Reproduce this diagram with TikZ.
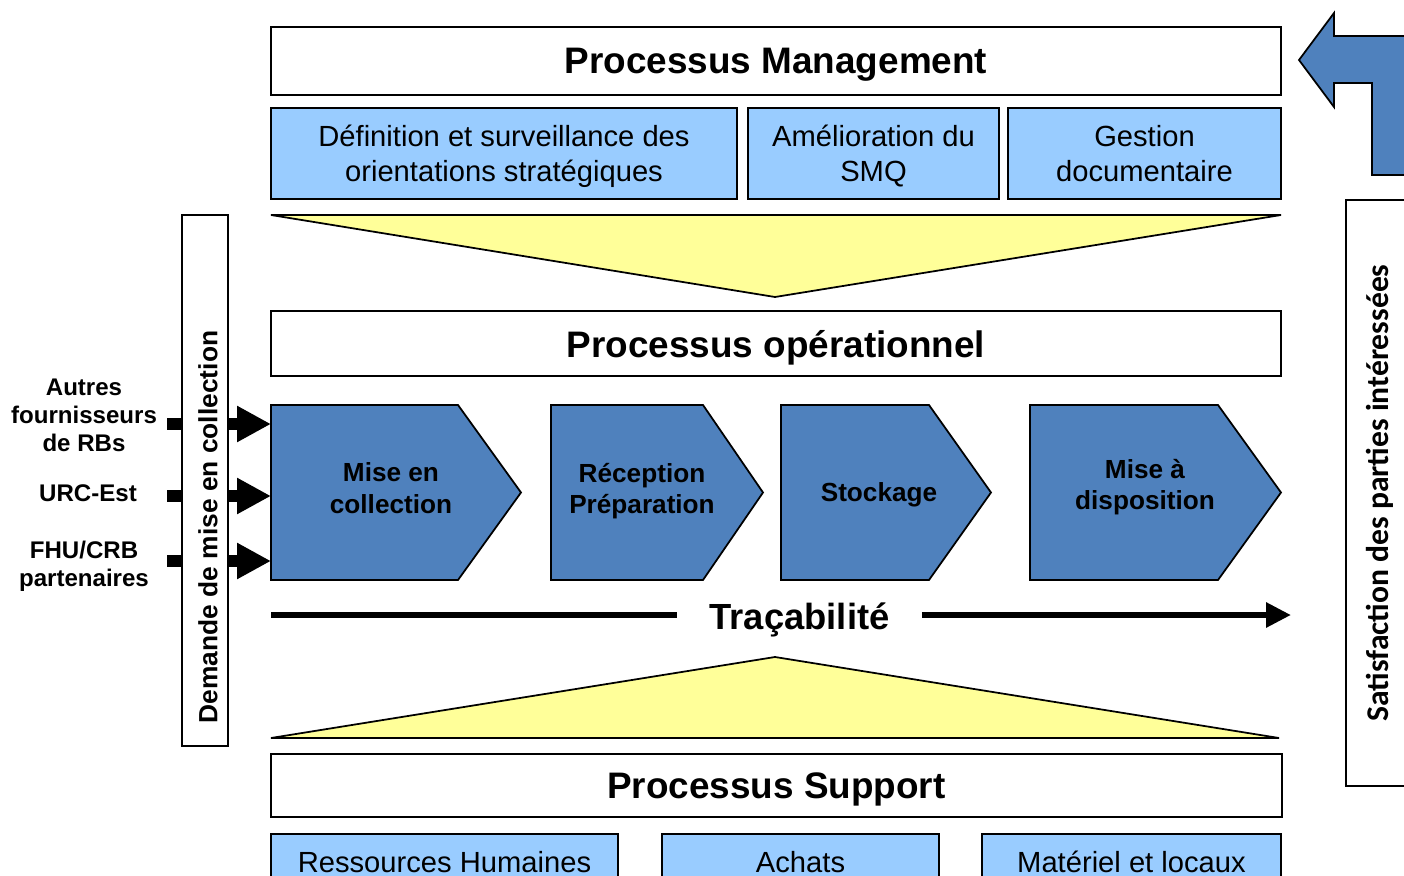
\documentclass[tikz,border=0pt]{standalone}
\usepackage{fontspec}
\setmainfont{Liberation Sans}
\newfontfamily\carlito{Carlito}
\usetikzlibrary{arrows.meta,calc,positioning}
\definecolor{qualblue}{RGB}{79,129,189}
\definecolor{quallight}{RGB}{153,204,255}
\definecolor{qualyellow}{RGB}{255,255,153}

\begin{document}
\begin{tikzpicture}[
      x=0.02cm, y=-0.02cm,
      titlebox/.style={draw, line width=1pt, inner sep=0pt, text depth=0pt, minimum width=20.2cm, font=\fontsize{21}{25}\selectfont\bfseries},
      subbox/.style={draw, line width=1pt, fill=quallight, inner sep=0pt, text depth=0pt, align=center, font=\fontsize{16.6}{19.8}\selectfont},
      chev/.style={draw, line width=1pt, fill=qualblue},
      chevtext/.style={align=center, font=\fontsize{14.9}{18}\selectfont\bfseries},
      wedge/.style={draw, line width=1pt, fill=qualyellow},
      src/.style={align=center, font=\fontsize{13.7}{16}\selectfont\bfseries},
      sidebox/.style={draw, line width=1pt, inner sep=0pt},
      feed/.style={-{Triangle[length=0.68cm, width=0.68cm]}, line width=6.5pt},
      stub/.style={line width=6.5pt}
    ]
      \path[use as bounding box, fill=white] (0,0) rectangle (1404,876);

      \node[titlebox, minimum height=1.36cm] (mgmt) at (776,61) {Processus Management};
      \node[subbox, minimum width=9.32cm, minimum height=1.82cm] (orient) at (504,153.5) {D\'efinition et surveillance des\\orientations strat\'egiques};
      \node[subbox, minimum width=5.02cm, minimum height=1.82cm] (smq) at (873.5,153.5) {Am\'elioration du\\SMQ};
      \node[subbox, minimum width=5.46cm, minimum height=1.82cm] (docs) at (1144.5,153.5) {Gestion\\documentaire};

      \filldraw[wedge] (271,215) -- (1281,215) -- (775,297) -- cycle;

      \node[titlebox, minimum height=1.3cm] (oper) at (776,343.5) {Processus op\'erationnel};

      \filldraw[chev] (271,405) -- (458,405) -- (521,492.5) -- (458,580) -- (271,580) -- cycle;
      \filldraw[chev] (551,405) -- (703,405) -- (763,492.5) -- (703,580) -- (551,580) -- cycle;
      \filldraw[chev] (781,405) -- (929,405) -- (991,492.5) -- (929,580) -- (781,580) -- cycle;
      \filldraw[chev] (1030,405) -- (1218,405) -- (1281,492.5) -- (1218,580) -- (1030,580) -- cycle;
      \node[chevtext] (collect) at (391,488) {Mise en\\collection};
      \node[chevtext] (recep) at (642,491) {R\'eception\\Pr\'eparation};
      \node[chevtext] (stock) at (879,495) {Stockage};
      \node[chevtext] (dispo) at (1145,487) {Mise \`a\\disposition};

      \node[font=\fontsize{20.7}{24}\selectfont\bfseries, inner xsep=0.64cm] (trace) at (799.5,620) {Tra\c{c}abilit\'e};
      \coordinate (tstart) at (271,615);
      \coordinate (tend) at (1291,615);
      \draw[line width=3.4pt] (tstart) -- (trace.west |- tstart);
      \draw[line width=3.4pt, -{Triangle[length=0.5cm, width=0.48cm]}] (trace.east |- tstart) -- (tend);

      \filldraw[wedge] (271,738) -- (1279,738) -- (775,657) -- cycle;

      \node[titlebox, minimum width=20.22cm, minimum height=1.26cm] (support) at (776.5,785.5) {Processus Support};
      \node[subbox, minimum width=6.94cm, minimum height=1.12cm] (rh) at (444.5,862) {Ressources Humaines};
      \node[subbox, minimum width=5.54cm, minimum height=1.12cm] (achats) at (800.5,862) {Achats};
      \node[subbox, minimum width=5.98cm, minimum height=1.12cm] (locaux) at (1131.5,862) {Mat\'eriel et locaux};

      \node[sidebox, minimum width=0.92cm, minimum height=10.62cm] (demande) at (205,480.5) {};
      \node[rotate=90, font=\fontsize{15}{18}\selectfont\bfseries] (demtext) at (208,527) {Demande de mise en collection};

      \node[sidebox, minimum width=1.48cm, minimum height=11.72cm] (satisf) at (1383,493) {};
      \node[rotate=90, font=\carlito\fontsize{18}{21}\selectfont\bfseries] (sattext) at (1380,493) {Satisfaction des parties int\'eress\'ees};

      \filldraw[chev] (1299,60) -- (1334,13) -- (1334,36) -- (1420,36) -- (1420,175) -- (1372,175) -- (1372,83) -- (1334,83) -- (1334,107) -- cycle;

      \node[src] (autres) at (84,415) {Autres\\fournisseurs\\de RBs};
      \node[src] (urc) at (88,493) {URC-Est};
      \node[src] (fhu) at (84,566) {FHU/CRB\\partenaires};

      \coordinate (in1) at (271,424);
      \coordinate (in2) at (271,496);
      \coordinate (in3) at (271,561);
      \draw[stub] ($(demande.west |- in1)+(-14,0)$) -- (demande.west |- in1);
      \draw[stub] ($(demande.west |- in2)+(-14,0)$) -- (demande.west |- in2);
      \draw[stub] ($(demande.west |- in3)+(-14,0)$) -- (demande.west |- in3);
      \draw[feed] (demande.east |- in1) -- (in1);
      \draw[feed] (demande.east |- in2) -- (in2);
      \draw[feed] (demande.east |- in3) -- (in3);
    \end{tikzpicture}
\end{document}
